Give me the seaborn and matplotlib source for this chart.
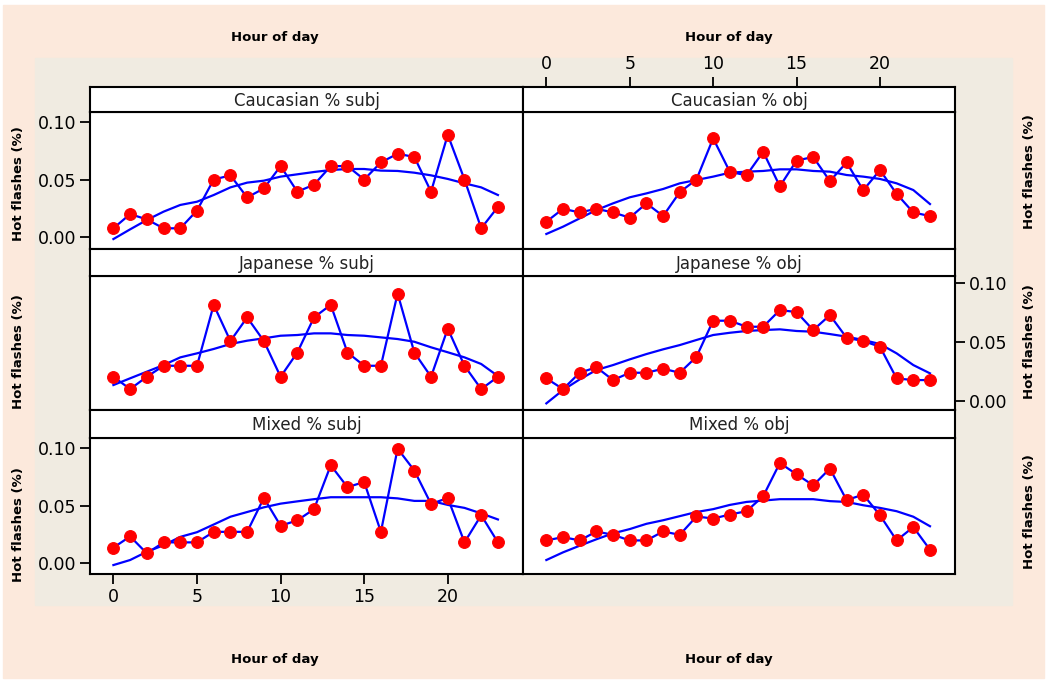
import numpy as np
import pandas as pd
import seaborn as sns
import matplotlib.pyplot as plt
from matplotlib.patches import Rectangle

# hourly share of hot flashes
hours = list(range(24))

cauc_subj = [0.0078, 0.0201, 0.0155, 0.0078, 0.0078, 0.0232, 0.0500, 0.0536,
             0.0345, 0.0423, 0.0616, 0.0395, 0.0455, 0.0616, 0.0616, 0.0500,
             0.0648, 0.0723, 0.0695, 0.0395, 0.0887, 0.0500, 0.0078, 0.0263]
cauc_subj_fit = [-0.0015, 0.0069, 0.0150, 0.0222, 0.0280, 0.0308, 0.0366, 0.0432,
                 0.0473, 0.0490, 0.0525, 0.0545, 0.0565, 0.0582, 0.0591, 0.0591,
                 0.0577, 0.0574, 0.0559, 0.0536, 0.0505, 0.0467, 0.0432, 0.0366]

cauc_obj = [0.0135, 0.0247, 0.0215, 0.0247, 0.0215, 0.0170, 0.0294, 0.0184,
            0.0391, 0.0500, 0.0856, 0.0567, 0.0536, 0.0740, 0.0441, 0.0664,
            0.0695, 0.0486, 0.0648, 0.0407, 0.0582, 0.0376, 0.0215, 0.0184]
cauc_obj_fit = [0.0029, 0.0092, 0.0164, 0.0236, 0.0294, 0.0346, 0.0380, 0.0418,
                0.0467, 0.0496, 0.0525, 0.0559, 0.0568, 0.0574, 0.0588, 0.0588,
                0.0574, 0.0568, 0.0539, 0.0525, 0.0505, 0.0467, 0.0409, 0.0288]

jap_subj = [0.0205, 0.0101, 0.0205, 0.0298, 0.0298, 0.0298, 0.0813, 0.0507,
            0.0707, 0.0507, 0.0205, 0.0410, 0.0707, 0.0813, 0.0410, 0.0298,
            0.0298, 0.0909, 0.0410, 0.0205, 0.0612, 0.0298, 0.0101, 0.0205]
jap_subj_fit = [0.0135, 0.0192, 0.0248, 0.0304, 0.0369, 0.0403, 0.0440, 0.0482,
                0.0510, 0.0530, 0.0552, 0.0558, 0.0572, 0.0572, 0.0558, 0.0552,
                0.0538, 0.0524, 0.0501, 0.0454, 0.0412, 0.0369, 0.0313, 0.0211]

jap_obj = [0.0191, 0.0101, 0.0239, 0.0285, 0.0177, 0.0239, 0.0239, 0.0273,
           0.0239, 0.0374, 0.0679, 0.0679, 0.0628, 0.0628, 0.0769, 0.0752,
           0.0600, 0.0726, 0.0535, 0.0507, 0.0459, 0.0191, 0.0177, 0.0177]
jap_obj_fit = [-0.0020, 0.0093, 0.0183, 0.0262, 0.0304, 0.0352, 0.0397, 0.0437,
               0.0473, 0.0516, 0.0558, 0.0577, 0.0592, 0.0600, 0.0606, 0.0592,
               0.0586, 0.0566, 0.0544, 0.0516, 0.0482, 0.0403, 0.0304, 0.0234]

mix_subj = [0.0134, 0.0232, 0.0084, 0.0180, 0.0180, 0.0180, 0.0272, 0.0272,
            0.0272, 0.0568, 0.0325, 0.0372, 0.0470, 0.0853, 0.0662, 0.0707,
            0.0272, 0.0998, 0.0807, 0.0515, 0.0568, 0.0180, 0.0417, 0.0180]
mix_subj_fit = [-0.0018, 0.0026, 0.0098, 0.0155, 0.0228, 0.0269, 0.0336, 0.0404,
                0.0445, 0.0486, 0.0518, 0.0538, 0.0557, 0.0574, 0.0574, 0.0574,
                0.0574, 0.0564, 0.0542, 0.0542, 0.0507, 0.0481, 0.0433, 0.0380]

mix_obj = [0.0197, 0.0226, 0.0197, 0.0275, 0.0246, 0.0197, 0.0197, 0.0275,
           0.0246, 0.0406, 0.0388, 0.0423, 0.0452, 0.0583, 0.0873, 0.0774,
           0.0678, 0.0824, 0.0549, 0.0597, 0.0417, 0.0197, 0.0314, 0.0116]
mix_obj_fit = [0.0026, 0.0093, 0.0151, 0.0207, 0.0259, 0.0296, 0.0342, 0.0373,
               0.0409, 0.0445, 0.0470, 0.0507, 0.0533, 0.0545, 0.0557, 0.0557,
               0.0557, 0.0540, 0.0533, 0.0504, 0.0481, 0.0452, 0.0404, 0.0321]

titles = [["Caucasian % subj", "Caucasian % obj"],
          ["Japanese % subj", "Japanese % obj"],
          ["Mixed % subj", "Mixed % obj"]]
series = [[(cauc_subj, cauc_subj_fit), (cauc_obj, cauc_obj_fit)],
          [(jap_subj, jap_subj_fit), (jap_obj, jap_obj_fit)],
          [(mix_subj, mix_subj_fit), (mix_obj, mix_obj_fit)]]
y_ticks = [0.0, 0.05, 0.10]
x_ticks = [0, 5, 10, 15, 20]

W, H = 1050, 687
fig = plt.figure(figsize=(W / 100, H / 100), dpi=100)
fig.patch.set_facecolor("white")


def rect(l, t, r, b):
    return [l / W, 1 - b / H, (r - l) / W, (b - t) / H]


# background bands, kept behind the panels
fig.patches.append(Rectangle((3 / W, 1 - 678 / H), 1041 / W, 673 / H,
                             transform=fig.transFigure, color="#fce9dc", zorder=-10))
fig.patches.append(Rectangle((35 / W, 1 - 605 / H), 977 / W, 547 / H,
                             transform=fig.transFigure, color="#f0ebe1", zorder=-9))

# (strip top, panel top, panel bottom, ylim)
rows = [(87, 112, 249, (-0.0101, 0.1084)),
        (249, 276, 410, (-0.0076, 0.1057)),
        (410, 438, 574, (-0.0096, 0.1091))]
cols = [(90, 523), (523, 955)]
xlim = (-1.4, 24.5)

tick_kw = dict(length=7, width=1.3, labelsize=12.5, colors="black", pad=3)

for i, (s_top, p_top, p_bot, ylim) in enumerate(rows):
    for j, (left, right) in enumerate(cols):
        ax = fig.add_axes(rect(left, p_top, right, p_bot))
        vals, fit = series[i][j]
        sns.lineplot(x=hours, y=fit, ax=ax, color="#0000ff", lw=1.6, zorder=2)
        sns.lineplot(x=hours, y=vals, ax=ax, color="#0000ff", lw=1.6,
                     marker="o", markersize=8.5, markerfacecolor="#ff0000",
                     markeredgecolor="#ff0000", zorder=3)
        ax.set_xlim(*xlim)
        ax.set_ylim(*ylim)
        ax.set_xlabel("")
        ax.set_ylabel("")
        ax.set_facecolor("white")
        for sp in ax.spines.values():
            sp.set_linewidth(1.5)
        ax.set_xticks([])
        ax.set_yticks([])

        if j == 0 and i in (0, 2):
            ax.set_yticks(y_ticks)
            ax.set_yticklabels([f"{v:.2f}" for v in y_ticks])
            ax.tick_params(axis="y", left=True, labelleft=True, **tick_kw)
        if j == 1 and i == 1:
            ax.set_yticks(y_ticks)
            ax.set_yticklabels([f"{v:.2f}" for v in y_ticks])
            ax.yaxis.tick_right()
            ax.tick_params(axis="y", right=True, labelright=True, left=False, **tick_kw)
        if j == 0 and i == 2:
            ax.set_xticks(x_ticks)
            ax.tick_params(axis="x", bottom=True, labelbottom=True, **tick_kw)

        # strip on top of each panel
        sx = fig.add_axes(rect(left, s_top, right, p_top))
        sx.set_facecolor("white")
        sx.set_xlim(*xlim)
        sx.set_yticks([])
        sx.set_xticks([])
        for sp in sx.spines.values():
            sp.set_linewidth(1.5)
        sx.text(0.5, 0.45, titles[i][j], transform=sx.transAxes,
                ha="center", va="center", fontsize=12, color="#222222")
        if i == 0 and j == 1:
            sx.set_xticks(x_ticks)
            sx.xaxis.tick_top()
            sx.tick_params(axis="x", top=True, labeltop=True, bottom=False, **tick_kw)

lab_kw = dict(fontsize=9.5, fontweight="bold", ha="center", va="center")
for x in (275, 729):
    fig.text(x / W, 1 - 37 / H, "Hour of day", **lab_kw)
    fig.text(x / W, 1 - 659 / H, "Hour of day", **lab_kw)

for y in (184, 352, 525):
    fig.text(19 / W, 1 - y / H, "Hot flashes (%)", rotation=90, **lab_kw)
for y in (172, 342, 512):
    fig.text(1030 / W, 1 - y / H, "Hot flashes (%)", rotation=90, **lab_kw)

fig.savefig("out.png", dpi=100)
